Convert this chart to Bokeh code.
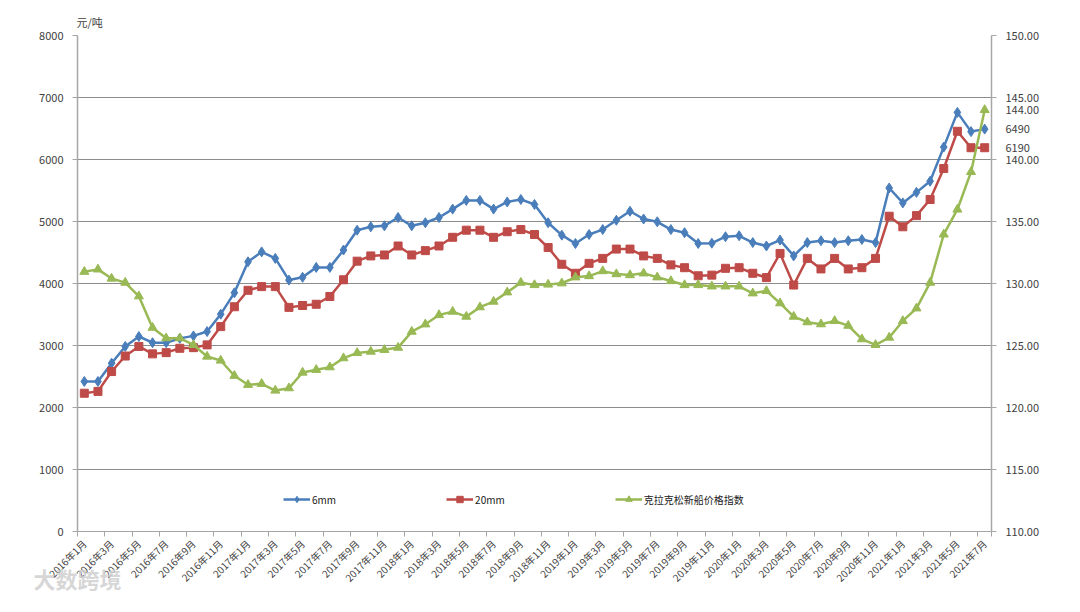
import math
from bokeh.plotting import figure
from bokeh.models import (Range1d, LinearAxis, FixedTicker, Legend, LegendItem,
                          ColumnDataSource, NumeralTickFormatter)
from bokeh.embed import file_html
from bokeh.resources import INLINE

# ---------------- data ----------------
months = [f"{y}年{m}月" for y in range(2016, 2022) for m in range(1, 13)][:67]

six_mm = [2420, 2420, 2715, 2985, 3145, 3045, 3045, 3115, 3155, 3225, 3505, 3850,
          4350, 4510, 4405, 4055, 4100, 4260, 4260, 4540, 4860, 4915, 4930, 5065,
          4930, 4980, 5065, 5200, 5340, 5340, 5200, 5315, 5355, 5275, 4980, 4780,
          4645, 4790, 4870, 5020, 5165, 5040, 4995, 4870, 4820, 4645, 4650, 4755,
          4770, 4660, 4605, 4700, 4445, 4660, 4690, 4660, 4690, 4710, 4660, 5540,
          5300, 5470, 5650, 6200, 6760, 6450, 6490]

twenty_mm = [2230, 2260, 2580, 2830, 2985, 2865, 2885, 2955, 2965, 3010, 3305, 3625,
             3890, 3950, 3950, 3615, 3645, 3665, 3790, 4060, 4360, 4445, 4460, 4605,
             4460, 4530, 4605, 4745, 4860, 4860, 4745, 4835, 4870, 4790, 4580, 4310,
             4165, 4325, 4405, 4555, 4555, 4445, 4405, 4300, 4255, 4125, 4135, 4245,
             4255, 4165, 4095, 4485, 3975, 4405, 4235, 4405, 4235, 4255, 4405, 5085,
             4915, 5095, 5355, 5855, 6455, 6190, 6190]

clarksons_index = [130.95, 131.14, 130.40, 130.07, 128.97, 126.44, 125.59, 125.59, 125.05, 124.11, 123.79, 122.56,
                   121.83, 121.91, 121.37, 121.56, 122.82, 123.04, 123.25, 123.98, 124.40, 124.51, 124.65, 124.83,
                   126.12, 126.71, 127.46, 127.73, 127.33, 128.09, 128.54, 129.29, 130.07, 129.88, 129.92, 130.02,
                   130.50, 130.60, 131.00, 130.76, 130.68, 130.82, 130.50, 130.20, 129.88, 129.88, 129.77, 129.77,
                   129.77, 129.21, 129.40, 128.41, 127.33, 126.88, 126.72, 126.98, 126.60, 125.51, 125.05, 125.64,
                   126.98, 128.00, 130.07, 133.96, 135.97, 139.00, 144.00]

left_ticks = [0, 1000, 2000, 3000, 4000, 5000, 6000, 7000, 8000]
right_ticks = [110, 115, 120, 125, 130, 135, 140, 145, 150]

names = ["6mm", "20mm", "克拉克松新船价格指数"]
colors = ["#4A7EBB", "#BE4B48", "#98B954"]
unit_label = "元/吨"
watermark = "大数跨境"

FONT = "Noto Sans CJK SC"
TXT = "#404040"
AX = "#a6a6a6"

L_MIN, L_MAX = left_ticks[0], left_ticks[-1]
R_MIN, R_MAX = right_ticks[0], right_ticks[-1]


def left_to_right(v):
    return R_MIN + (v - L_MIN) * (R_MAX - R_MIN) / (L_MAX - L_MIN)


idx = list(range(len(months)))
src = ColumnDataSource(dict(x=idx, a=six_mm, b=twenty_mm, c=clarksons_index))

p = figure(width=1064, height=596, output_backend="svg", toolbar_location=None,
           x_range=Range1d(-0.5, len(months) - 0.5), y_range=Range1d(L_MIN, L_MAX),
           min_border_left=77, min_border_right=73, min_border_top=35, min_border_bottom=64)
p.extra_y_ranges = {"right": Range1d(R_MIN, R_MAX)}
p.outline_line_color = None
p.background_fill_color = "white"
p.border_fill_color = "white"

# unit label as title
p.title.text = unit_label
p.title.align = "left"
p.title.text_font = FONT
p.title.text_font_size = "11px"
p.title.text_font_style = "normal"
p.title.text_color = TXT
p.title.standoff = 12
p.title.offset = -1

# grid
p.xgrid.grid_line_color = None
p.ygrid.grid_line_color = "#8c8c8c"
p.ygrid.grid_line_width = 1
p.ygrid.ticker = FixedTicker(ticks=left_ticks)

# x axis
xa = p.xaxis[0]
xa.ticker = FixedTicker(ticks=idx[::2], minor_ticks=[i - 0.5 for i in idx[::2]] + [len(months) - 0.5])
xa.major_label_overrides = {i: months[i] for i in idx[::2]}
xa.major_label_orientation = math.pi / 4
xa.major_tick_line_color = None
xa.minor_tick_line_color = AX
xa.minor_tick_out = 5
xa.minor_tick_in = 0
xa.axis_line_color = AX
xa.major_label_text_font = FONT
xa.major_label_text_font_size = "10px"
xa.major_label_text_color = TXT
xa.major_label_standoff = 4

# watermark drawn as the x axis' own label (left aligned, pulled up into the tick-label band)
try:
    xa.axis_label = watermark
    xa.axis_label_align = "start"
    xa.axis_label_standoff = -31
    xa.axis_label_text_font = FONT
    xa.axis_label_text_font_size = "22px"
    xa.axis_label_text_font_style = "bold"
    xa.axis_label_text_color = "#cfcfcf"
    xa.axis_label_text_alpha = 0.85
except AttributeError:
    xa.axis_label = None

# left axis
ya = p.yaxis[0]
ya.ticker = FixedTicker(ticks=left_ticks)
ya.axis_line_color = AX
ya.axis_line_width = 1.5
ya.major_tick_line_color = AX
ya.major_tick_out = 5
ya.major_tick_in = 0
ya.minor_tick_line_color = None
ya.major_label_text_font = FONT
ya.major_label_text_font_size = "11px"
ya.major_label_text_color = TXT
ya.major_label_standoff = 9

# right axis: regular ticks (drawn as minor tick marks) + end-of-series value labels
end_vals = {left_to_right(six_mm[-1]): str(six_mm[-1]),
            left_to_right(twenty_mm[-1]): str(twenty_mm[-1]),
            clarksons_index[-1]: f"{clarksons_index[-1]:.2f}"}
ra = LinearAxis(y_range_name="right",
                ticker=FixedTicker(ticks=right_ticks + list(end_vals.keys()), minor_ticks=right_ticks),
                formatter=NumeralTickFormatter(format="0.00"))
ra.major_label_overrides = end_vals
ra.axis_line_color = AX
ra.axis_line_width = 1.5
ra.major_tick_line_color = None
ra.major_tick_out = 0
ra.major_tick_in = 0
ra.minor_tick_line_color = AX
ra.minor_tick_out = 5
ra.minor_tick_in = 0
ra.major_label_text_font = FONT
ra.major_label_text_font_size = "11px"
ra.major_label_text_color = TXT
ra.major_label_standoff = 9
p.add_layout(ra, "right")

# series
l1 = p.line("x", "a", source=src, line_color=colors[0], line_width=2.5)
s1 = p.scatter("x", "a", source=src, marker="diamond", size=10, color=colors[0])
l2 = p.line("x", "b", source=src, line_color=colors[1], line_width=2.5)
s2 = p.scatter("x", "b", source=src, marker="square", size=8, color=colors[1])
l3 = p.line("x", "c", source=src, line_color=colors[2], line_width=2.5, y_range_name="right")
s3 = p.scatter("x", "c", source=src, marker="triangle", size=9, color=colors[2], y_range_name="right")

legend = Legend(items=[LegendItem(label=names[0], renderers=[l1, s1]),
                       LegendItem(label=names[1], renderers=[l2, s2]),
                       LegendItem(label=names[2], renderers=[l3, s3])],
                orientation="horizontal", location=(206, 24), spacing=110,
                glyph_width=27, glyph_height=16, label_standoff=2, padding=0, margin=0,
                border_line_color=None, background_fill_alpha=0,
                label_text_font=FONT, label_text_font_size="10px", label_text_color="#202020")
p.add_layout(legend)

open("out.html", "w").write(file_html(p, INLINE))
